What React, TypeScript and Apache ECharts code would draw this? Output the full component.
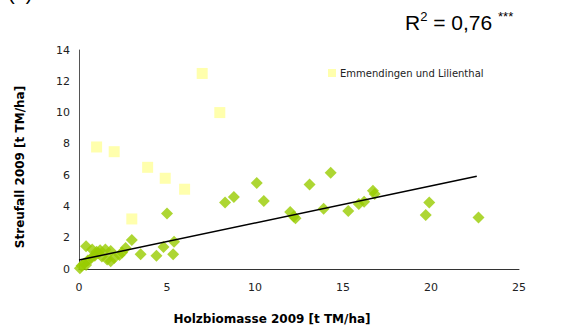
import React, { useEffect, useRef } from "react";
import * as echarts from "echarts";

// Green diamonds: [Holzbiomasse, Streufall]
const mainPoints: number[][] = [
  [0.05, 0.05], [0.15, 0.2], [0.3, 0.35], [0.4, 0.25], [0.5, 0.55], [0.7, 0.7],
  [0.9, 0.85], [1.1, 1.0], [0.4, 1.45], [0.75, 1.25], [1.0, 1.1], [1.2, 1.2],
  [1.5, 1.25], [1.3, 0.8], [1.6, 0.6], [1.8, 1.15], [1.8, 0.5], [2.0, 0.7],
  [2.3, 0.9], [2.45, 1.05], [2.65, 1.35], [3.0, 1.85], [3.5, 0.95], [4.4, 0.85],
  [4.8, 1.4], [5.0, 3.55], [5.35, 0.95], [5.4, 1.75],
  [8.3, 4.25], [8.8, 4.6], [10.1, 5.5], [10.5, 4.35], [12.0, 3.65], [12.2, 3.35],
  [12.3, 3.25], [13.1, 5.4], [13.9, 3.85], [14.3, 6.15], [15.3, 3.7], [15.9, 4.15],
  [16.2, 4.3], [16.7, 5.0], [16.8, 4.8], [19.7, 3.45], [19.9, 4.25], [22.7, 3.3],
];

// Yellow squares: Emmendingen und Lilienthal
const emmendingenPoints: number[][] = [
  [1.0, 7.8], [2.0, 7.5], [3.0, 3.2], [3.9, 6.5], [4.9, 5.8], [6.0, 5.1], [7.0, 12.5], [8.0, 10.0],
];

// Trend line end points
const trendLine: number[][] = [
  [0, 0.57], [22.6, 5.93],
];

const xTicks = { min: 0, max: 25, interval: 5 };
const yTicks = { min: 0, max: 14, interval: 2 };

const legendName = "Emmendingen und Lilienthal";
const xTitle = "Holzbiomasse 2009 [t TM/ha]";
const yTitle = "Streufall 2009 [t TM/ha]";

export default function App() {
  const ref = useRef<HTMLDivElement>(null);
  useEffect(() => {
    if (!ref.current) return;
    const chart = echarts.init(ref.current, undefined, { renderer: "svg" });
    const font = "'DejaVu Sans', Verdana, sans-serif";
    const arial = "'Liberation Sans', Arial, sans-serif";
    chart.setOption({
      animation: false,
      backgroundColor: "#ffffff",
      grid: { left: 79, right: 52, top: 50, bottom: 60, containLabel: false },
      xAxis: {
        type: "value",
        min: xTicks.min,
        max: xTicks.max,
        interval: xTicks.interval,
        splitLine: { show: false },
        axisTick: { show: false },
        axisLine: { show: true, onZero: false, lineStyle: { color: "#333", width: 1 } },
        axisLabel: { color: "#222", fontSize: 11, fontFamily: font, margin: 13 },
      },
      yAxis: {
        type: "value",
        min: yTicks.min,
        max: yTicks.max,
        interval: yTicks.interval,
        splitLine: { show: false },
        axisTick: { show: false },
        axisLine: { show: true, lineStyle: { color: "#555", width: 1 } },
        axisLabel: { color: "#222", fontSize: 11, fontFamily: font, margin: 9 },
      },
      legend: {
        data: [{ name: legendName, icon: "rect" }],
        left: 323,
        top: 63,
        itemWidth: 8,
        itemHeight: 8,
        itemGap: 4,
        textStyle: { fontSize: 10, fontFamily: font, color: "#222", padding: [0, 0, 0, -1] },
      },
      series: [
        {
          name: "main",
          type: "scatter",
          data: mainPoints,
          symbol: "diamond",
          symbolSize: 12,
          itemStyle: { color: "#99cc00" },
          z: 3,
        },
        {
          name: legendName,
          type: "scatter",
          data: emmendingenPoints,
          symbol: "rect",
          symbolSize: 11,
          itemStyle: { color: "#ffff99" },
          z: 2,
        },
        {
          name: "trend",
          type: "line",
          data: trendLine,
          showSymbol: false,
          symbol: "none",
          lineStyle: { color: "#000", width: 1.5 },
          z: 4,
        },
      ],
      graphic: [
        {
          type: "text",
          left: 405,
          top: 10,
          style: {
            text: "{a|R}{s|2}{a| = 0,76 }{s|***}",
            rich: {
              a: { fontSize: 21, fontFamily: arial, fill: "#000", verticalAlign: "bottom" },
              s: { fontSize: 13, fontFamily: arial, fill: "#000", verticalAlign: "top", padding: [0, 0, 10, 0] },
            },
          },
        },
        {
          type: "text",
          x: 8,
          y: 3,
          style: {
            text: "(a)",
            fontSize: 20,
            fontFamily: arial,
            fill: "#000",
            verticalAlign: "bottom",
          },
        },
        {
          type: "text",
          x: 272,
          y: 319,
          style: {
            text: xTitle,
            fontSize: 12,
            fontWeight: "bold",
            fontFamily: font,
            fill: "#000",
            align: "center",
            verticalAlign: "middle",
          },
        },
        {
          type: "text",
          x: 20,
          y: 167,
          rotation: Math.PI / 2,
          style: {
            text: yTitle,
            fontSize: 12,
            fontWeight: "bold",
            fontFamily: font,
            fill: "#000",
            align: "center",
            verticalAlign: "middle",
          },
        },
      ],
    });
    return () => chart.dispose();
  }, []);
  return (
    <div
      ref={ref}
      style={{ position: "fixed", left: 0, top: 0, width: 571, height: 329 }}
    />
  );
}
